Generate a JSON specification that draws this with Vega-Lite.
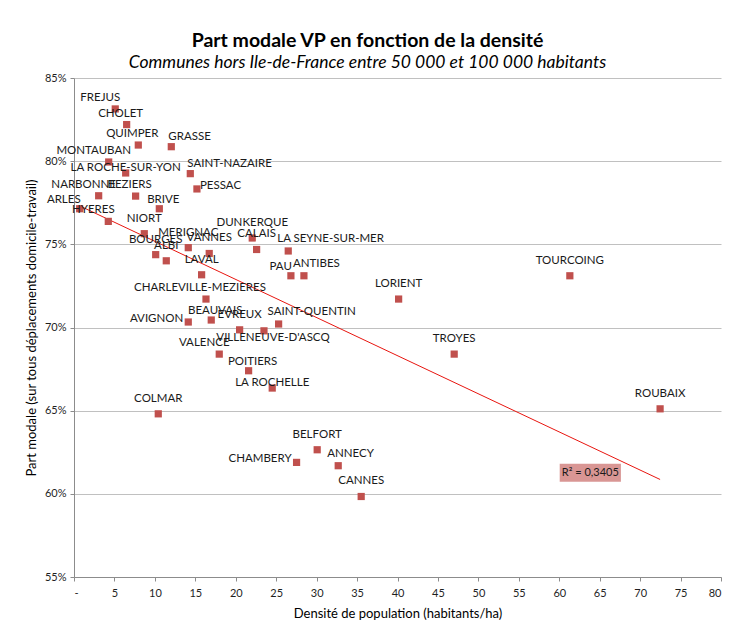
{
  "$schema": "https://vega.github.io/schema/vega-lite/v6.json",
  "autosize": "none",
  "width": 647,
  "height": 499,
  "padding": {"left": 74, "top": 78, "right": 19, "bottom": 55},
  "background": "white",
  "title": {
    "text": "Part modale VP en fonction de la densité",
    "subtitle": "Communes hors Ile-de-France  entre 50 000 et 100 000 habitants",
    "anchor": "middle",
    "dx": -30,
    "offset": 0,
    "font": "Lato",
    "fontSize": 19.5,
    "fontWeight": "bold",
    "color": "#000000",
    "subtitleFont": "Lato",
    "subtitleFontSize": 17.5,
    "subtitleFontStyle": "italic",
    "subtitleColor": "#000000",
    "subtitlePadding": 2
  },
  "config": {
    "view": {"stroke": null},
    "axis": {
      "domainColor": "#8c8c8c",
      "tickColor": "#8c8c8c",
      "tickSize": 4,
      "gridColor": "#c0c0c0",
      "labelFont": "Lato",
      "labelFontSize": 11,
      "labelColor": "#1f1f1f",
      "titleFont": "Lato",
      "titleFontSize": 13,
      "titleFontWeight": "normal",
      "titleColor": "#000000"
    },
    "text": {"font": "Lato", "fontSize": 11.5, "color": "#1a1a1a", "baseline": "middle"}
  },
  "datasets": {
    "villes": [
      {"ville": "FREJUS", "densite": 5.10, "part": 83.14},
      {"ville": "CHOLET", "densite": 6.51, "part": 82.20},
      {"ville": "QUIMPER", "densite": 7.95, "part": 80.97},
      {"ville": "GRASSE", "densite": 12.03, "part": 80.87},
      {"ville": "MONTAUBAN", "densite": 4.29, "part": 79.95},
      {"ville": "LA ROCHE-SUR-YON", "densite": 6.39, "part": 79.29},
      {"ville": "SAINT-NAZAIRE", "densite": 14.38, "part": 79.25},
      {"ville": "PESSAC", "densite": 15.20, "part": 78.33},
      {"ville": "NARBONNE", "densite": 3.05, "part": 77.92},
      {"ville": "BEZIERS", "densite": 7.62, "part": 77.90},
      {"ville": "ARLES", "densite": 0.70, "part": 77.14},
      {"ville": "BRIVE", "densite": 10.55, "part": 77.14},
      {"ville": "HYERES", "densite": 4.24, "part": 76.38},
      {"ville": "NIORT", "densite": 8.69, "part": 75.64},
      {"ville": "DUNKERQUE", "densite": 22.04, "part": 75.38},
      {"ville": "CALAIS", "densite": 22.58, "part": 74.69},
      {"ville": "LA SEYNE-SUR-MER", "densite": 26.49, "part": 74.60},
      {"ville": "MERIGNAC", "densite": 14.13, "part": 74.80},
      {"ville": "VANNES", "densite": 16.72, "part": 74.45},
      {"ville": "BOURGES", "densite": 10.10, "part": 74.38},
      {"ville": "ALBI", "densite": 11.41, "part": 74.01},
      {"ville": "LAVAL", "densite": 15.78, "part": 73.17},
      {"ville": "PAU", "densite": 26.82, "part": 73.11},
      {"ville": "ANTIBES", "densite": 28.43, "part": 73.11},
      {"ville": "CHARLEVILLE-MEZIERES", "densite": 16.32, "part": 71.71},
      {"ville": "AVIGNON", "densite": 14.13, "part": 70.33},
      {"ville": "BEAUVAIS", "densite": 16.97, "part": 70.45},
      {"ville": "EVREUX", "densite": 20.48, "part": 69.86},
      {"ville": "VILLENEUVE-D'ASCQ", "densite": 23.49, "part": 69.80},
      {"ville": "SAINT-QUENTIN", "densite": 25.30, "part": 70.21},
      {"ville": "VALENCE", "densite": 17.96, "part": 68.40},
      {"ville": "POITIERS", "densite": 21.59, "part": 67.40},
      {"ville": "LA ROCHELLE", "densite": 24.51, "part": 66.36},
      {"ville": "COLMAR", "densite": 10.42, "part": 64.81},
      {"ville": "BELFORT", "densite": 30.07, "part": 62.65},
      {"ville": "CHAMBERY", "densite": 27.52, "part": 61.89},
      {"ville": "ANNECY", "densite": 32.67, "part": 61.69},
      {"ville": "CANNES", "densite": 35.51, "part": 59.84},
      {"ville": "TOURCOING", "densite": 61.31, "part": 73.11},
      {"ville": "LORIENT", "densite": 40.14, "part": 71.71},
      {"ville": "TROYES", "densite": 47.01, "part": 68.40},
      {"ville": "ROUBAIX", "densite": 72.47, "part": 65.11}
    ],
    "r2": [
      {"densite": 63.84, "part": 61.27, "texte": "R² = 0,3405"}
    ]
  },
  "data": {"name": "villes"},
  "encoding": {
    "x": {
      "field": "densite", "type": "quantitative",
      "scale": {"domain": [0, 80], "nice": false, "zero": false},
      "axis": {
        "title": "Densité de population (habitants/ha)",
        "values": [0, 5, 10, 15, 20, 25, 30, 35, 40, 45, 50, 55, 60, 65, 70, 75, 80],
        "grid": false,
        "labelExpr": "datum.value == 0 ? '-' : datum.label",
        "labelPadding": 6,
        "titlePadding": 9
      }
    },
    "y": {
      "field": "part", "type": "quantitative",
      "scale": {"domain": [55, 85], "nice": false, "zero": false},
      "axis": {
        "title": "Part modale (sur tous déplacements  domicile-travail)",
        "values": [55, 60, 65, 70, 75, 80, 85],
        "grid": true,
        "labelExpr": "datum.value + '%'",
        "labelPadding": 4,
        "titlePadding": 6
      }
    }
  },
  "layer": [
    {
      "transform": [{"regression": "part", "on": "densite"}],
      "mark": {"type": "line", "color": "#e8150f", "strokeWidth": 1},
      "encoding": {}
    },
    {
      "mark": {"type": "point", "shape": "square", "filled": true, "size": 52, "color": "#c0504d", "opacity": 1}
    },
    {
      "data": {"name": "r2"},
      "mark": {"type": "point", "shape": "M-1.7,-0.5H1.7V0.5H-1.7Z", "filled": true, "size": 1296, "color": "#d99694", "opacity": 1}
    },
    {
      "data": {"name": "r2"},
      "mark": {"type": "text", "fontSize": 11, "align": "center"},
      "encoding": {"text": {"field": "texte"}}
    },
    {
      "transform": [{"filter": {"field": "ville", "oneOf": ["NIORT", "DUNKERQUE", "CALAIS", "MERIGNAC", "VANNES", "BOURGES", "ALBI", "LAVAL", "EVREUX", "COLMAR", "BELFORT", "CANNES", "TOURCOING", "LORIENT", "TROYES", "ROUBAIX"]}}],
      "mark": {"type": "text", "align": "center", "dx": 0, "dy": -15},
      "encoding": {"text": {"field": "ville"}}
    },
    {
      "transform": [{"filter": {"field": "ville", "oneOf": ["CHOLET", "BEZIERS", "QUIMPER", "CHARLEVILLE-MEZIERES"]}}],
      "mark": {"type": "text", "align": "center", "dx": -6, "dy": -11},
      "encoding": {"text": {"field": "ville"}}
    },
    {
      "transform": [{"filter": {"field": "ville", "oneOf": ["BEAUVAIS", "POITIERS", "BRIVE"]}}],
      "mark": {"type": "text", "align": "center", "dx": 4, "dy": -9},
      "encoding": {"text": {"field": "ville"}}
    },
    {
      "transform": [{"filter": {"field": "ville", "oneOf": ["FREJUS", "MONTAUBAN", "NARBONNE", "HYERES", "VALENCE"]}}],
      "mark": {"type": "text", "align": "center", "dx": -15, "dy": -11},
      "encoding": {"text": {"field": "ville"}}
    },
    {
      "transform": [{"filter": {"field": "ville", "oneOf": ["ARLES", "PAU"]}}],
      "mark": {"type": "text", "align": "right", "dx": 1, "dy": -9},
      "encoding": {"text": {"field": "ville"}}
    },
    {
      "transform": [{"filter": {"field": "ville", "oneOf": ["AVIGNON", "CHAMBERY"]}}],
      "mark": {"type": "text", "align": "right", "dx": -5, "dy": -3},
      "encoding": {"text": {"field": "ville"}}
    },
    {
      "transform": [{"filter": {"field": "ville", "oneOf": ["LA SEYNE-SUR-MER", "ANTIBES", "SAINT-QUENTIN", "ANNECY"]}}],
      "mark": {"type": "text", "align": "left", "dx": -11, "dy": -12},
      "encoding": {"text": {"field": "ville"}}
    },
    {
      "transform": [{"filter": {"field": "ville", "oneOf": ["GRASSE", "SAINT-NAZAIRE"]}}],
      "mark": {"type": "text", "align": "left", "dx": -3, "dy": -10},
      "encoding": {"text": {"field": "ville"}}
    },
    {
      "transform": [{"filter": {"field": "ville", "oneOf": ["PESSAC"]}}],
      "mark": {"type": "text", "align": "left", "dx": 3, "dy": -3},
      "encoding": {"text": {"field": "ville"}}
    },
    {
      "transform": [{"filter": {"field": "ville", "oneOf": ["VILLENEUVE-D'ASCQ"]}}],
      "mark": {"type": "text", "align": "center", "dx": 9, "dy": 7},
      "encoding": {"text": {"field": "ville"}}
    },
    {
      "transform": [{"filter": {"field": "ville", "oneOf": ["LA ROCHE-SUR-YON", "LA ROCHELLE"]}}],
      "mark": {"type": "text", "align": "center", "dx": 0, "dy": -5},
      "encoding": {"text": {"field": "ville"}}
    }
  ]
}
